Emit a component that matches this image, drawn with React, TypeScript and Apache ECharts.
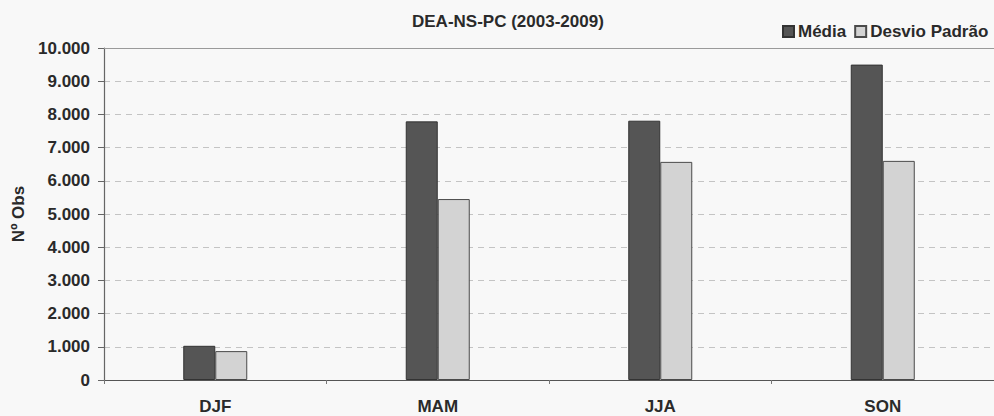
import React, { useEffect, useRef } from "react";
import * as echarts from "echarts";

// Seasons and observation counts
const seasons = ["DJF", "MAM", "JJA", "SON"];
const mediaValues = [1030, 7790, 7810, 9500];
const desvioValues = [870, 5450, 6570, 6600];
const seriesNames = ["Média", "Desvio Padrão"];
const chartTitle = "DEA-NS-PC (2003-2009)";
const yAxisName = "Nº Obs";

const FONT = "'Liberation Sans', Arial, Helvetica, sans-serif";
const TEXT = "#2a2a2a";

// Thousands separator as dot: 10000 -> "10.000"
const formatThousands = (v: number) =>
  String(Math.round(v)).replace(/\B(?=(\d{3})+(?!\d))/g, ".");

export default function App() {
  const ref = useRef<HTMLDivElement>(null);

  useEffect(() => {
    if (!ref.current) return;
    const chart = echarts.init(ref.current, undefined, { renderer: "svg" });
    chart.setOption({
      animation: false,
      backgroundColor: "#f8f8f8",
      textStyle: { fontFamily: FONT },
      title: {
        text: chartTitle,
        left: 407,
        top: 8,
        textStyle: { fontFamily: FONT, fontSize: 17, fontWeight: "bold", color: TEXT },
      },
      legend: {
        data: seriesNames,
        left: 782,
        top: 23,
        padding: 0,
        icon: "rect",
        itemWidth: 11,
        itemHeight: 11,
        itemGap: 8,
        textStyle: { fontFamily: FONT, fontSize: 17, fontWeight: "bold", color: TEXT, padding: [0, 0, 0, -1] },
      },
      grid: { left: 104, top: 48, width: 896, height: 332 },
      xAxis: [
        {
          type: "category",
          data: seasons,
          axisLine: { lineStyle: { color: "#555", width: 1.2 } },
          axisTick: { show: true, alignWithLabel: false, length: 4, inside: false, lineStyle: { color: "#777" } },
          axisLabel: { fontFamily: FONT, fontSize: 17, fontWeight: "bold", color: TEXT, margin: 18 },
          splitLine: { show: false },
        },
        {
          type: "category",
          data: seasons,
          position: "top",
          axisLine: { show: true, lineStyle: { color: "#9a9a9a", width: 1.2 } },
          axisTick: { show: false },
          axisLabel: { show: false },
          splitLine: { show: false },
        },
      ],
      yAxis: {
        type: "value",
        min: 0,
        max: 10000,
        interval: 1000,
        name: yAxisName,
        nameLocation: "middle",
        nameGap: 74,
        nameRotate: 90,
        nameTextStyle: { fontFamily: FONT, fontSize: 17, fontWeight: "bold", color: TEXT },
        axisLine: { show: true, lineStyle: { color: "#666", width: 1.2 } },
        axisTick: { show: true, length: 6, lineStyle: { color: "#666" } },
        axisLabel: {
          fontFamily: FONT,
          fontSize: 17,
          fontWeight: "bold",
          color: TEXT,
          margin: 14,
          formatter: (v: number) => formatThousands(v),
        },
        splitLine: {
          show: true,
          lineStyle: { color: "#c4c4c4", type: [6, 5], width: 1 },
        },
      },
      series: [
        {
          name: seriesNames[0],
          type: "bar",
          data: mediaValues,
          barWidth: 32,
          barGap: "0%",
          itemStyle: { color: "#555555", borderColor: "#333333", borderWidth: 1 },
        },
        {
          name: seriesNames[1],
          type: "bar",
          data: desvioValues,
          barWidth: 32,
          barGap: "0%",
          itemStyle: { color: "#d3d3d3", borderColor: "#4a4a4a", borderWidth: 1 },
        },
      ],
    });
    return () => chart.dispose();
  }, []);

  return (
    <div
      ref={ref}
      style={{ position: "fixed", left: 0, top: 0, width: 994, height: 416 }}
    />
  );
}
